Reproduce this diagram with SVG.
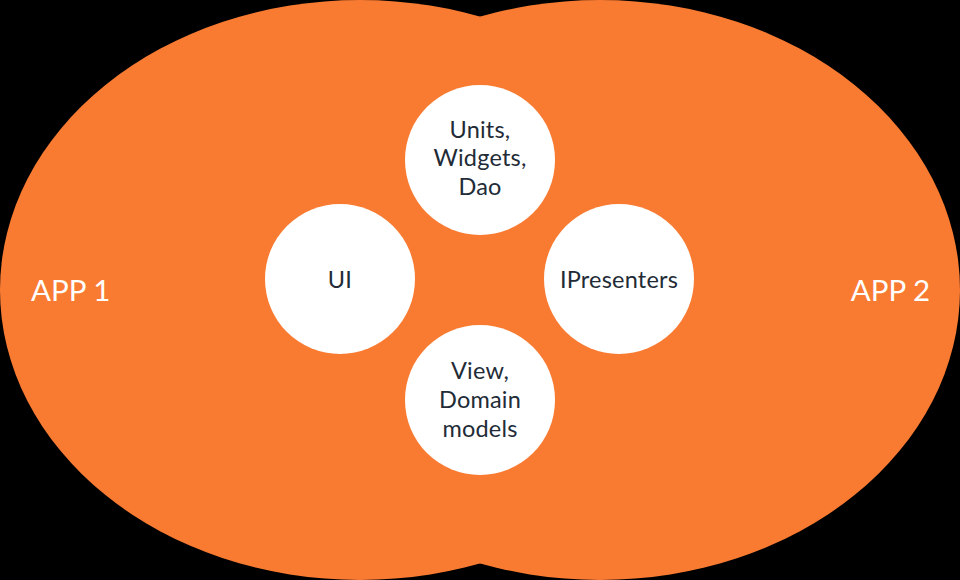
<svg xmlns="http://www.w3.org/2000/svg" width="960" height="580" viewBox="0 0 960 580">
  <style>
    .app { fill: #f97b32; }
    .node { fill: #ffffff; }
    .lbl { font-family: Lato, "Liberation Sans", sans-serif; font-size: 23.5px; letter-spacing: 0.2px; fill: #222b36; text-anchor: middle; }
    .applbl { font-family: Lato, "Liberation Sans", sans-serif; font-size: 29.5px; fill: #ffffff; }
  </style>
  <rect x="0" y="0" width="960" height="580" fill="#000000"/>
  <g id="app1">
    <ellipse class="app" cx="360" cy="290" rx="360" ry="290"/>
  </g>
  <g id="app2">
    <ellipse class="app" cx="600" cy="290" rx="360" ry="290"/>
  </g>
  <g id="app1-label">
    <text class="applbl" x="31" y="301">APP 1</text>
  </g>
  <g id="app2-label">
    <text class="applbl" x="930" y="301" text-anchor="end">APP 2</text>
  </g>
  <g id="connectors"></g>
  <g id="units">
    <circle class="node" cx="480" cy="160" r="75"/>
    <text class="lbl" x="480" y="138">Units,</text>
    <text class="lbl" x="480" y="166">Widgets,</text>
    <text class="lbl" x="480" y="195">Dao</text>
  </g>
  <g id="ui">
    <circle class="node" cx="340" cy="279" r="75"/>
    <text class="lbl" x="340" y="288">UI</text>
  </g>
  <g id="ipresenters">
    <circle class="node" cx="619" cy="279" r="75"/>
    <text class="lbl" x="619" y="288">IPresenters</text>
  </g>
  <g id="view">
    <circle class="node" cx="480" cy="400" r="75"/>
    <text class="lbl" x="480" y="379">View,</text>
    <text class="lbl" x="480" y="408">Domain</text>
    <text class="lbl" x="480" y="437">models</text>
  </g>
</svg>
